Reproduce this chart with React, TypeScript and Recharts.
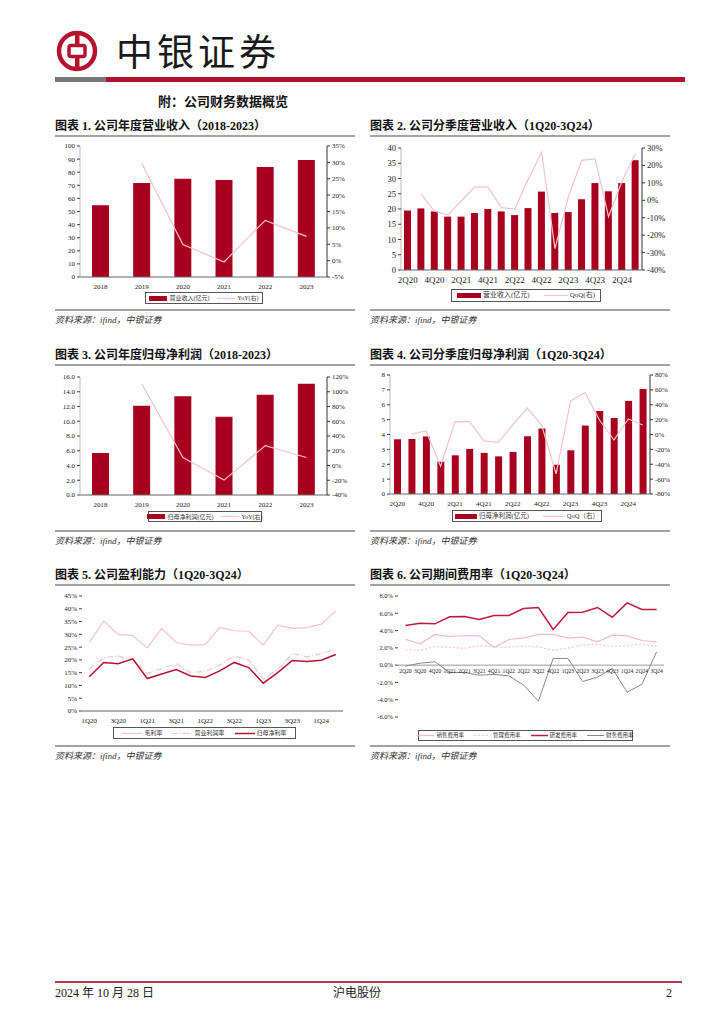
import React from 'react';
import { ComposedChart, Bar, Line, XAxis, YAxis, ReferenceLine } from 'recharts';

const RED = '#A8001F';
const PINK = '#F5C2CC';
const SERIF = '"Liberation Serif", "Times New Roman", serif';
const CJK = '"Liberation Serif", "Noto Sans CJK SC", serif';

// 图表1 / 图表3: 年度
const years = ['2018', '2019', '2020', '2021', '2022', '2023'];
const annualRevenue = [54.8, 71.7, 75.0, 74.0, 84.0, 89.3];
const annualRevenueYoY = [null, 29.7, 4.9, -0.4, 12.3, 7.4];
const annualProfit = [5.7, 12.1, 13.4, 10.6, 13.6, 15.1];
const annualProfitYoY = [null, 110.8, 10.8, -19.8, 27.0, 10.8];

// 图表2 / 图表4: 季度
const quarters = ['2Q20', '3Q20', '4Q20', '1Q21', '2Q21', '3Q21', '4Q21', '1Q22', '2Q22', '3Q22', '4Q22', '1Q23', '2Q23', '3Q23', '4Q23', '1Q24', '2Q24', '3Q24'];
const quarterRevenue = [19.5, 20.2, 19.2, 17.5, 17.5, 18.7, 20.0, 19.2, 18.0, 20.3, 25.7, 18.7, 19.0, 23.2, 28.5, 25.8, 28.5, 36.0];
const quarterRevenueQoQ = [null, 3.5, -6.2, -8.5, -0.4, 7.5, 7.5, -4.2, -5.0, 12.0, 27.7, -27.7, 2.0, 22.9, 23.8, -9.4, 10.8, 26.5];
const quarterProfit = [3.68, 3.7, 3.87, 2.17, 2.6, 3.03, 2.76, 2.53, 2.83, 3.88, 4.4, 1.97, 2.94, 4.6, 5.58, 5.11, 6.26, 7.06];
const quarterProfitQoQ = [null, 0.5, 4.7, -42.6, 17.0, 17.7, -8.7, -10.5, 12.8, 35.8, 12.3, -53.0, 45.0, 56.5, 19.5, -7.4, 20.8, 12.8];

// 图表5: 盈利能力
const marginQuarters = ['1Q20', '2Q20', '3Q20', '4Q20', '1Q21', '2Q21', '3Q21', '4Q21', '1Q22', '2Q22', '3Q22', '4Q22', '1Q23', '2Q23', '3Q23', '4Q23', '1Q24', '2Q24'];
const grossMargin = [26.8, 35.2, 30.0, 29.5, 24.7, 32.3, 26.8, 25.8, 26.0, 32.7, 31.4, 31.2, 25.8, 33.6, 32.3, 32.6, 34.0, 39.1];
const operatingMargin = [16.4, 20.9, 21.5, 19.9, 14.7, 16.6, 18.6, 15.0, 15.6, 17.9, 21.6, 19.9, 12.6, 16.2, 22.5, 21.2, 22.5, 24.2];
const netMargin = [13.4, 19.0, 18.5, 20.4, 12.7, 14.5, 16.2, 13.7, 13.1, 15.7, 19.0, 17.0, 10.9, 15.0, 19.8, 19.4, 19.9, 22.1];

// 图表6: 期间费用率
const salesRate = [3.0, 2.47, 3.55, 3.31, 3.43, 3.39, 2.04, 2.97, 3.16, 3.55, 3.55, 3.12, 3.24, 2.7, 3.47, 3.39, 2.85, 2.7];
const adminRate = [1.81, 1.7, 2.16, 2.08, 1.93, 2.27, 2.08, 2.08, 2.2, 2.12, 1.7, 2.0, 2.31, 2.43, 2.16, 2.23, 2.43, 2.16];
const rdRate = [4.59, 4.86, 4.78, 5.59, 5.63, 5.28, 5.74, 5.74, 6.55, 6.67, 4.12, 6.09, 6.13, 6.67, 5.55, 7.2, 6.44, 6.44];
const financeRate = [-0.12, 0.23, 0.39, -0.85, -0.85, -1.16, -1.08, -1.23, -2.31, -4.16, 0.77, 0.77, -1.89, -1.39, -0.39, -3.12, -2.23, 1.54];

const range = (a: number, b: number, s: number) => {
  const out: number[] = [];
  for (let v = a; v <= b + 1e-9; v += s) out.push(Math.round(v * 100) / 100);
  return out;
};
const pct = (v: number) => `${v}%`;

interface LegendItem {
  label: string;
  kind: 'bar' | 'line';
  color: string;
  dash?: string;
  w?: number;
}

function LegendBox({ left, top, width, height, items, gap = 8, sw = 18, fs = 6 }: {
  left: number; top: number; width: number; height: number; items: LegendItem[]; gap?: number; sw?: number; fs?: number;
}) {
  return (
    <div
      style={{
        position: 'absolute', left, top, width, height, border: '1px solid #555', boxSizing: 'border-box',
        display: 'flex', alignItems: 'center', justifyContent: 'center', gap,
        fontFamily: CJK, fontSize: fs, lineHeight: `${fs + 2}px`, color: '#333',
      }}
    >
      {items.map((it) => (
        <div key={it.label} style={{ display: 'flex', alignItems: 'center', gap: 2 }}>
          <svg width={sw} height={5}>
            {it.kind === 'bar' ? (
              <rect x={0} y={0} width={sw} height={5} fill={it.color} />
            ) : (
              <line x1={0} y1={2.5} x2={sw} y2={2.5} stroke={it.color} strokeWidth={it.w ?? 1} strokeDasharray={it.dash} />
            )}
          </svg>
          <span style={{ whiteSpace: 'nowrap' }}>{it.label}</span>
        </div>
      ))}
    </div>
  );
}

interface BarLineProps {
  left: number; top: number; width: number; height: number;
  margin: { top: number; right: number; bottom: number; left: number };
  cats: string[]; bars: number[]; line: (number | null)[];
  leftTicks: number[]; rightTicks: number[];
  leftFmt: (v: number) => string; rightFmt: (v: number) => string;
  leftW: number; rightW: number; barSize: number; interval?: number; fontSize?: number; xFont?: number;
}

function BarLineChart(p: BarLineProps) {
  const data = p.cats.map((c, i) => ({ cat: c, bar: p.bars[i], line: p.line[i] }));
  const fs = p.fontSize ?? 7;
  const tick = { fontSize: fs, fill: '#222', fontFamily: SERIF };
  const xTick = { fontSize: p.xFont ?? fs, fill: '#222', fontFamily: SERIF };
  return (
    <div style={{ position: 'absolute', left: p.left, top: p.top }}>
      <ComposedChart width={p.width} height={p.height} data={data} margin={p.margin}>
        <XAxis dataKey="cat" interval={p.interval ?? 0} tickLine={false} axisLine={{ stroke: '#666' }} tick={xTick} height={18} tickMargin={1} />
        <YAxis
          yAxisId="l" width={p.leftW} domain={[p.leftTicks[0], p.leftTicks[p.leftTicks.length - 1]]}
          ticks={p.leftTicks} interval={0} tickFormatter={p.leftFmt} tick={tick} tickSize={3}
          axisLine={{ stroke: '#bbb' }} tickLine={{ stroke: '#444' }}
        />
        <YAxis
          yAxisId="r" orientation="right" width={p.rightW} domain={[p.rightTicks[0], p.rightTicks[p.rightTicks.length - 1]]}
          ticks={p.rightTicks} interval={0} tickFormatter={p.rightFmt} tick={tick} tickSize={3}
          axisLine={{ stroke: '#333' }} tickLine={{ stroke: '#333' }}
        />
        <Bar yAxisId="l" dataKey="bar" fill={RED} barSize={p.barSize} isAnimationActive={false} />
        <Line yAxisId="r" type="linear" dataKey="line" stroke={PINK} strokeWidth={1.2} dot={false} isAnimationActive={false} />
      </ComposedChart>
    </div>
  );
}

function MarginChart() {
  const data = marginQuarters.map((q, i) => ({ q, g: grossMargin[i], o: operatingMargin[i], n: netMargin[i] }));
  const tick = { fontSize: 7, fill: '#222', fontFamily: SERIF };
  return (
    <div style={{ position: 'absolute', left: 50, top: 588 }}>
      <ComposedChart width={300} height={140} data={data} margin={{ top: 8, right: 7, bottom: 3, left: 0 }}>
        <XAxis dataKey="q" scale="band" interval={1} tickLine={false} axisLine={{ stroke: '#666' }} tick={tick} height={14} tickMargin={1} />
        <YAxis width={32} domain={[0, 45]} ticks={range(0, 45, 5)} interval={0} tickFormatter={pct} tick={tick} tickSize={3} axisLine={false} tickLine={{ stroke: '#444' }} />
        <Line type="linear" dataKey="g" stroke={PINK} strokeWidth={1.2} dot={false} isAnimationActive={false} />
        <Line type="linear" dataKey="o" stroke={PINK} strokeWidth={1.2} strokeDasharray="6 2 1 2" dot={false} isAnimationActive={false} />
        <Line type="linear" dataKey="n" stroke="#B5132F" strokeWidth={1.5} dot={false} isAnimationActive={false} />
      </ComposedChart>
    </div>
  );
}

const EXP_H = 135;
const EXP_M = { top: 8, right: 6, bottom: 2, left: 0 };
const EXP_X_H = 4;
const EXP_DOMAIN: [number, number] = [-6, 8];

function ZeroTick(props: any) {
  const { x, y, payload } = props;
  const plotH = EXP_H - EXP_M.top - EXP_M.bottom - EXP_X_H;
  const fromBottom = (plotH * (0 - EXP_DOMAIN[0])) / (EXP_DOMAIN[1] - EXP_DOMAIN[0]);
  return (
    <text x={x} y={y - fromBottom + 8} textAnchor="middle" fontSize={5.6} fill="#222" fontFamily={SERIF}>
      {payload.value}
    </text>
  );
}

function ExpenseChart() {
  const data = quarters.map((q, i) => ({ q, s: salesRate[i], a: adminRate[i], r: rdRate[i], f: financeRate[i] }));
  const tick = { fontSize: 6.5, fill: '#222', fontFamily: SERIF };
  return (
    <div style={{ position: 'absolute', left: 365, top: 588 }}>
      <ComposedChart width={305} height={EXP_H} data={data} margin={EXP_M}>
        <XAxis dataKey="q" scale="band" interval={0} tickLine={false} axisLine={false} tickSize={0} tickMargin={0} height={EXP_X_H} tick={<ZeroTick />} />
        <YAxis width={33} domain={EXP_DOMAIN} ticks={range(-6, 8, 2)} interval={0} tickFormatter={(v: number) => `${v.toFixed(1)}%`} tick={tick} tickSize={3} axisLine={false} tickLine={{ stroke: '#444' }} />
        <ReferenceLine y={0} stroke="#999" strokeWidth={1} />
        <Line type="linear" dataKey="s" stroke="#F2BBC6" strokeWidth={1.2} dot={false} isAnimationActive={false} />
        <Line type="linear" dataKey="a" stroke="#F5C6CF" strokeWidth={1.2} strokeDasharray="2 2" dot={false} isAnimationActive={false} />
        <Line type="linear" dataKey="r" stroke="#C2183A" strokeWidth={1.5} dot={false} isAnimationActive={false} />
        <Line type="linear" dataKey="f" stroke="#8A8A8A" strokeWidth={1} dot={false} isAnimationActive={false} />
      </ComposedChart>
    </div>
  );
}

function Title({ x, y, text }: { x: number; y: number; text: string }) {
  return (
    <>
      <div style={{ position: 'absolute', left: x, top: y, fontFamily: CJK, fontWeight: 700, fontSize: 12, lineHeight: '14px', color: '#111', whiteSpace: 'nowrap' }}>
        {text}
      </div>
      <div style={{ position: 'absolute', left: x, top: y + 16, width: 300, height: 2, background: '#A3A3A3' }} />
    </>
  );
}

function Source({ x, lineY }: { x: number; lineY: number }) {
  return (
    <>
      <div style={{ position: 'absolute', left: x, top: lineY, width: 300, height: 2, background: '#A3A3A3' }} />
      <div style={{ position: 'absolute', left: x, top: lineY + 6, fontFamily: CJK, fontStyle: 'italic', fontSize: 9, lineHeight: '11px', color: '#333', whiteSpace: 'nowrap' }}>
        资料来源：ifind，中银证券
      </div>
    </>
  );
}

function Logo() {
  return (
    <svg width={42} height={42} style={{ position: 'absolute', left: 56, top: 30 }}>
      <circle cx={21} cy={21} r={18} fill="none" stroke="#B5122E" strokeWidth={4.5} />
      <rect x={19} y={2} width={4.5} height={38} fill="#B5122E" />
      <rect x={13} y={15.5} width={16} height={11} rx={2} fill="#fff" stroke="#B5122E" strokeWidth={3.5} />
    </svg>
  );
}

export default function App() {
  return (
    <div style={{ position: 'absolute', left: 0, top: 0, width: 724, height: 1024, background: '#fff', overflow: 'hidden' }}>
      <Logo />
      <div style={{ position: 'absolute', left: 116, top: 27, fontFamily: '"Noto Sans CJK SC", serif', fontSize: 37, lineHeight: '46px', letterSpacing: 4, color: '#1a1a1a' }}>
        中银证券
      </div>
      <div style={{ position: 'absolute', left: 55, top: 77, width: 51, height: 5, background: '#7A7A7A' }} />
      <div style={{ position: 'absolute', left: 106, top: 77, width: 579, height: 5, background: '#B0102B' }} />
      <div style={{ position: 'absolute', left: 158, top: 94, fontFamily: CJK, fontWeight: 700, fontSize: 13, lineHeight: '16px', color: '#111' }}>
        附：公司财务数据概览
      </div>

      <Title x={55} y={119} text="图表 1. 公司年度营业收入（2018-2023）" />
      <Title x={370} y={119} text="图表 2. 公司分季度营业收入（1Q20-3Q24）" />
      <BarLineChart
        left={50} top={138} width={310} height={160} margin={{ top: 8, right: 3, bottom: 3, left: 0 }}
        cats={years} bars={annualRevenue} line={annualRevenueYoY}
        leftTicks={range(0, 100, 10)} rightTicks={range(-5, 35, 5)} leftFmt={(v) => `${v}`} rightFmt={pct}
        leftW={30} rightW={30} barSize={17}
      />
      <LegendBox left={145} top={292} width={118} height={12} items={[
        { label: '营业收入(亿元)', kind: 'bar', color: RED },
        { label: 'YoY(右)', kind: 'line', color: PINK },
      ]} />
      <BarLineChart
        left={365} top={140} width={310} height={150} margin={{ top: 8, right: 3, bottom: 2, left: 0 }}
        cats={quarters} bars={quarterRevenue} line={quarterRevenueQoQ}
        leftTicks={range(0, 40, 5)} rightTicks={range(-40, 30, 10)} leftFmt={(v) => `${v}`} rightFmt={pct}
        leftW={36} rightW={30} barSize={7} interval={1} fontSize={8.5} xFont={9}
      />
      <LegendBox left={451} top={289} width={150} height={13} gap={14} sw={24} fs={7} items={[
        { label: '营业收入(亿元)', kind: 'bar', color: RED },
        { label: 'QoQ(右)', kind: 'line', color: PINK },
      ]} />
      <Source x={55} lineY={309} />
      <Source x={370} lineY={309} />

      <Title x={55} y={348} text="图表 3. 公司年度归母净利润（2018-2023）" />
      <Title x={370} y={348} text="图表 4. 公司分季度归母净利润（1Q20-3Q24）" />
      <BarLineChart
        left={50} top={369} width={310} height={150} margin={{ top: 8, right: 3, bottom: 6, left: 0 }}
        cats={years} bars={annualProfit} line={annualProfitYoY}
        leftTicks={range(0, 16, 2)} rightTicks={range(-40, 120, 20)} leftFmt={(v) => v.toFixed(1)} rightFmt={pct}
        leftW={30} rightW={30} barSize={17}
      />
      <LegendBox left={148} top={511} width={114} height={11} items={[
        { label: '归母净利润(亿元)', kind: 'bar', color: RED },
        { label: 'YoY(右)', kind: 'line', color: PINK },
      ]} />
      <BarLineChart
        left={365} top={367} width={315} height={150} margin={{ top: 8, right: 0, bottom: 5, left: 0 }}
        cats={quarters} bars={quarterProfit} line={quarterProfitQoQ}
        leftTicks={range(0, 8, 1)} rightTicks={range(-80, 80, 20)} leftFmt={(v) => `${v}`} rightFmt={pct}
        leftW={25} rightW={30} barSize={7} interval={1}
      />
      <LegendBox left={452} top={510} width={150} height={12} gap={14} sw={22} fs={6.5} items={[
        { label: '归母净利润(亿元)', kind: 'bar', color: RED },
        { label: 'QoQ（右）', kind: 'line', color: PINK },
      ]} />
      <Source x={55} lineY={530} />
      <Source x={370} lineY={530} />

      <Title x={55} y={568} text="图表 5. 公司盈利能力（1Q20-3Q24）" />
      <Title x={370} y={568} text="图表 6. 公司期间费用率（1Q20-3Q24）" />
      <MarginChart />
      <LegendBox left={113} top={727} width={183} height={12} gap={10} sw={20} fs={6} items={[
        { label: '毛利率', kind: 'line', color: PINK, w: 1.2 },
        { label: '营业利润率', kind: 'line', color: PINK, dash: '6 2 1 2', w: 1.2 },
        { label: '归母净利率', kind: 'line', color: '#B5132F', w: 1.5 },
      ]} />
      <ExpenseChart />
      <LegendBox left={418} top={730} width={215} height={11} gap={10} sw={17} fs={5.5} items={[
        { label: '销售费用率', kind: 'line', color: '#F2BBC6', w: 1.2 },
        { label: '管理费用率', kind: 'line', color: '#F5C6CF', dash: '2 2', w: 1.2 },
        { label: '研发费用率', kind: 'line', color: '#C2183A', w: 1.5 },
        { label: '财务费用率', kind: 'line', color: '#8A8A8A', w: 1 },
      ]} />
      <Source x={55} lineY={745} />
      <Source x={370} lineY={745} />

      <div style={{ position: 'absolute', left: 55, top: 981, width: 627, height: 2, background: '#C0344C' }} />
      <div style={{ position: 'absolute', left: 55, top: 986, fontFamily: CJK, fontSize: 12, lineHeight: '14px', color: '#222' }}>
        2024 年 10 月 28 日
      </div>
      <div style={{ position: 'absolute', left: 333, top: 986, fontFamily: CJK, fontSize: 12, lineHeight: '14px', color: '#222' }}>
        沪电股份
      </div>
      <div style={{ position: 'absolute', left: 666, top: 986, fontFamily: CJK, fontSize: 12, lineHeight: '14px', color: '#222' }}>
        2
      </div>
    </div>
  );
}
